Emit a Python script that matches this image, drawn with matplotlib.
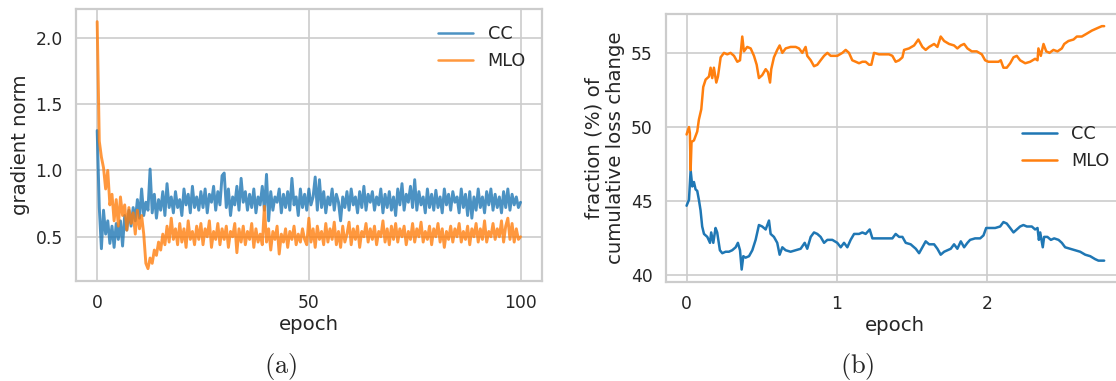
import numpy as np
import matplotlib
matplotlib.use('Agg')
import matplotlib.pyplot as plt
import seaborn as sns

# (a) gradient norm, one value every half epoch
grad_cc = [
    1.30, 0.72, 0.41, 0.70, 0.52, 0.62, 0.45, 0.58, 0.42, 0.60,
    0.48, 0.62, 0.43, 0.66, 0.55, 0.70, 0.58, 0.72, 0.62, 0.78,
    0.64, 0.86, 0.66, 0.76, 0.70, 1.01, 0.68, 0.82, 0.64, 0.78,
    0.70, 0.84, 0.66, 0.90, 0.72, 0.80, 0.68, 0.84, 0.72, 0.78,
    0.66, 0.86, 0.74, 0.82, 0.68, 0.88, 0.72, 0.80, 0.70, 0.84,
    0.72, 0.86, 0.68, 0.82, 0.76, 0.88, 0.70, 0.84, 0.74, 0.96,
    0.98, 0.72, 0.86, 0.66, 0.80, 0.74, 0.88, 0.70, 0.94, 0.76,
    0.84, 0.70, 0.82, 0.72, 0.86, 0.68, 0.80, 0.74, 0.88, 0.70,
    0.97, 0.62, 0.84, 0.70, 0.80, 0.76, 0.86, 0.68, 0.82, 0.72,
    0.84, 0.70, 0.94, 0.74, 0.80, 0.66, 0.86, 0.72, 0.82, 0.70,
    0.86, 0.74, 0.80, 0.95, 0.70, 0.93, 0.72, 0.84, 0.68, 0.80,
    0.74, 0.86, 0.70, 0.82, 0.76, 0.62, 0.80, 0.72, 0.84, 0.70,
    0.86, 0.74, 0.80, 0.68, 0.84, 0.72, 0.88, 0.70, 0.82, 0.76,
    0.84, 0.70, 0.80, 0.74, 0.86, 0.68, 0.82, 0.72, 0.84, 0.70,
    0.80, 0.66, 0.86, 0.74, 0.90, 0.70, 0.82, 0.76, 0.88, 0.72,
    0.93, 0.70, 0.84, 0.74, 0.80, 0.68, 0.86, 0.72, 0.82, 0.70,
    0.85, 0.72, 0.80, 0.68, 0.86, 0.74, 0.82, 0.70, 0.84, 0.76,
    0.80, 0.68, 0.86, 0.72, 0.82, 0.66, 0.84, 0.64, 0.80, 0.70,
    0.86, 0.72, 0.80, 0.68, 0.84, 0.74, 0.86, 0.70, 0.82, 0.72,
    0.80, 0.68, 0.84, 0.72, 0.86, 0.70, 0.82, 0.74, 0.80, 0.72,
    0.76]
grad_mlo = [
    2.12, 1.22, 1.10, 1.02, 0.86, 1.00, 0.74, 0.82, 0.62, 0.78,
    0.58, 0.80, 0.66, 0.74, 0.55, 0.72, 0.60, 0.68, 0.52, 0.70,
    0.56, 0.66, 0.52, 0.30, 0.26, 0.34, 0.30, 0.40, 0.36, 0.46,
    0.40, 0.52, 0.44, 0.58, 0.46, 0.64, 0.48, 0.56, 0.44, 0.60,
    0.46, 0.56, 0.42, 0.62, 0.48, 0.54, 0.44, 0.58, 0.48, 0.60,
    0.44, 0.56, 0.50, 0.62, 0.42, 0.54, 0.48, 0.60, 0.44, 0.56,
    0.48, 0.58, 0.42, 0.54, 0.50, 0.60, 0.38, 0.56, 0.46, 0.58,
    0.44, 0.54, 0.48, 0.60, 0.42, 0.56, 0.46, 0.52, 0.44, 0.73,
    0.46, 0.56, 0.40, 0.54, 0.48, 0.58, 0.37, 0.52, 0.46, 0.56,
    0.42, 0.54, 0.48, 0.58, 0.44, 0.52, 0.46, 0.56, 0.48, 0.44,
    0.64, 0.46, 0.56, 0.42, 0.58, 0.48, 0.54, 0.44, 0.60, 0.46,
    0.56, 0.48, 0.61, 0.44, 0.54, 0.42, 0.58, 0.46, 0.52, 0.61,
    0.44, 0.56, 0.48, 0.58, 0.42, 0.54, 0.50, 0.60, 0.46, 0.56,
    0.48, 0.58, 0.44, 0.54, 0.50, 0.62, 0.46, 0.56, 0.44, 0.58,
    0.48, 0.60, 0.46, 0.56, 0.50, 0.58, 0.44, 0.54, 0.48, 0.60,
    0.46, 0.56, 0.50, 0.61, 0.46, 0.54, 0.48, 0.58, 0.44, 0.56,
    0.50, 0.60, 0.46, 0.56, 0.42, 0.54, 0.48, 0.58, 0.46, 0.56,
    0.50, 0.60, 0.46, 0.54, 0.48, 0.58, 0.44, 0.56, 0.50, 0.60,
    0.46, 0.56, 0.48, 0.62, 0.46, 0.54, 0.50, 0.60, 0.48, 0.56,
    0.50, 0.62, 0.46, 0.58, 0.64, 0.48, 0.60, 0.46, 0.56, 0.48,
    0.50]

# (b) fraction (%) of cumulative loss change
frac_cc_epoch = [
    0.000, 0.016, 0.027, 0.038, 0.049, 0.060, 0.071, 0.082, 0.093, 0.104,
    0.116, 0.138, 0.156, 0.164, 0.178, 0.193, 0.204, 0.222, 0.238, 0.260,
    0.282, 0.304, 0.327, 0.342, 0.356, 0.367, 0.378, 0.393, 0.416, 0.438,
    0.460, 0.482, 0.504, 0.527, 0.549, 0.560, 0.582, 0.604, 0.620, 0.638,
    0.660, 0.693, 0.727, 0.760, 0.787, 0.804, 0.827, 0.849, 0.871, 0.893,
    0.916, 0.938, 0.960, 0.971, 1.004, 1.027, 1.049, 1.071, 1.093, 1.116,
    1.149, 1.171, 1.193, 1.220, 1.238, 1.271, 1.304, 1.338, 1.371, 1.393,
    1.416, 1.438, 1.460, 1.493, 1.527, 1.549, 1.571, 1.593, 1.616, 1.649,
    1.671, 1.693, 1.716, 1.738, 1.760, 1.782, 1.804, 1.827, 1.849, 1.871,
    1.889, 1.922, 1.956, 1.978, 1.996, 2.022, 2.056, 2.089, 2.111, 2.133,
    2.156, 2.178, 2.200, 2.222, 2.244, 2.267, 2.300, 2.322, 2.338, 2.347,
    2.356, 2.373, 2.382, 2.404, 2.427, 2.449, 2.478, 2.500, 2.522, 2.556,
    2.589, 2.622, 2.656, 2.689, 2.722, 2.744, 2.767, 2.782]
frac_cc = [
    44.7, 45.1, 47.1, 46.0, 46.3, 45.8, 45.7, 45.1, 44.4, 43.3,
    42.8, 42.6, 42.2, 42.9, 42.2, 43.2, 42.9, 41.7, 41.5, 41.6,
    41.6, 41.7, 41.9, 42.2, 41.7, 40.4, 41.3, 41.2, 41.3, 41.7,
    42.4, 43.4, 43.3, 43.1, 43.7, 42.8, 42.6, 42.2, 41.4, 41.9,
    41.7, 41.6, 41.7, 41.8, 42.2, 41.8, 42.6, 42.9, 42.8, 42.6,
    42.2, 42.4, 42.4, 42.4, 42.2, 41.9, 42.2, 41.9, 42.4, 42.8,
    42.8, 42.9, 42.8, 43.1, 42.5, 42.5, 42.5, 42.5, 42.5, 42.8,
    42.6, 42.6, 42.2, 42.1, 41.8, 41.5, 41.9, 42.3, 42.1, 42.1,
    41.8, 41.4, 41.6, 41.7, 41.8, 42.1, 41.8, 42.3, 41.9, 42.2,
    42.4, 42.5, 42.5, 42.7, 43.2, 43.2, 43.2, 43.3, 43.6, 43.5,
    43.2, 42.9, 43.1, 43.3, 43.4, 43.3, 43.3, 43.1, 43.2, 42.4,
    42.9, 41.9, 42.6, 42.6, 42.4, 42.5, 42.4, 42.2, 41.9, 41.8,
    41.7, 41.6, 41.4, 41.3, 41.1, 41.0, 41.0, 41.0]

frac_mlo_epoch = [
    0.000, 0.016, 0.022, 0.027, 0.033, 0.049, 0.071, 0.082, 0.098, 0.111,
    0.127, 0.149, 0.160, 0.171, 0.182, 0.198, 0.209, 0.227, 0.249, 0.271,
    0.293, 0.316, 0.338, 0.356, 0.371, 0.382, 0.404, 0.427, 0.449, 0.467,
    0.482, 0.504, 0.527, 0.542, 0.556, 0.564, 0.582, 0.604, 0.620, 0.638,
    0.660, 0.693, 0.727, 0.749, 0.771, 0.793, 0.804, 0.827, 0.849, 0.871,
    0.893, 0.916, 0.938, 0.960, 1.004, 1.038, 1.060, 1.082, 1.104, 1.127,
    1.149, 1.171, 1.193, 1.216, 1.231, 1.249, 1.282, 1.316, 1.349, 1.371,
    1.393, 1.416, 1.438, 1.449, 1.482, 1.516, 1.544, 1.571, 1.593, 1.616,
    1.649, 1.671, 1.693, 1.716, 1.749, 1.782, 1.804, 1.827, 1.849, 1.871,
    1.900, 1.933, 1.967, 1.989, 2.011, 2.044, 2.078, 2.093, 2.111, 2.133,
    2.156, 2.178, 2.200, 2.222, 2.256, 2.289, 2.322, 2.338, 2.344, 2.360,
    2.378, 2.396, 2.418, 2.444, 2.471, 2.500, 2.516, 2.544, 2.578, 2.600,
    2.633, 2.667, 2.700, 2.722, 2.744, 2.767, 2.782]
frac_mlo = [
    49.5, 50.0, 49.6, 47.1, 49.0, 49.1, 49.7, 50.5, 51.2, 52.7,
    53.2, 53.4, 54.0, 53.3, 54.0, 53.0, 53.4, 54.7, 55.0, 54.9,
    55.0, 54.8, 54.4, 54.5, 56.1, 55.1, 55.4, 55.3, 54.8, 54.2,
    53.3, 53.5, 53.9, 53.7, 53.0, 53.9, 54.7, 55.2, 55.5, 55.0,
    55.3, 55.4, 55.4, 55.3, 55.0, 55.4, 54.8, 54.5, 54.1, 54.2,
    54.5, 54.8, 55.0, 54.8, 54.8, 55.0, 55.2, 55.0, 54.5, 54.4,
    54.3, 54.4, 54.4, 54.2, 54.2, 55.0, 54.9, 54.9, 54.9, 54.8,
    54.4, 54.5, 54.7, 55.2, 55.3, 55.5, 55.9, 55.4, 55.2, 55.4,
    55.6, 55.4, 56.1, 55.8, 55.6, 55.5, 55.3, 55.5, 55.6, 55.3,
    55.1, 55.1, 54.9, 54.5, 54.4, 54.4, 54.4, 54.5, 54.0, 54.0,
    54.3, 54.7, 54.8, 54.5, 54.3, 54.4, 54.6, 54.5, 55.3, 54.8,
    55.6, 55.1, 55.0, 55.2, 55.1, 55.3, 55.6, 55.8, 55.9, 56.1,
    56.1, 56.3, 56.5, 56.6, 56.7, 56.8, 56.8]

# Style: seaborn whitegrid look, DejaVu text, CM captions
sns.set_style('whitegrid')
plt.rcParams['font.family'] = 'DejaVu Sans'
plt.rcParams['mathtext.fontset'] = 'cm'
plt.rcParams['axes.linewidth'] = 1.6
plt.rcParams['grid.linewidth'] = 1.2
plt.rcParams['xtick.major.size'] = 6
plt.rcParams['ytick.major.size'] = 6
plt.rcParams['xtick.labelsize'] = 12.3
plt.rcParams['ytick.labelsize'] = 12.3
plt.rcParams['axes.labelsize'] = 14.2
plt.rcParams['legend.fontsize'] = 12.7

fig = plt.figure(figsize=(11.16, 3.81), dpi=100)
ax1 = fig.add_axes([0.0681, 0.2625, 0.4173, 0.7131])
ax2 = fig.add_axes([0.5965, 0.2606, 0.4116, 0.7027])

# (a) gradient norm
epoch = np.linspace(0, 100, len(grad_cc))
ax1.plot(epoch, grad_cc, color='tab:blue', alpha=0.8, lw=2.1, label='CC')
ax1.plot(epoch, grad_mlo, color='tab:orange', alpha=0.8, lw=2.1, label='MLO')
ax1.set_xticks([0, 50, 100])
ax1.set_yticks([0.5, 1.0, 1.5, 2.0])
ax1.set_xlabel('epoch', labelpad=2)
ax1.set_ylabel('gradient norm')
leg1 = ax1.legend(loc='upper right', frameon=False)
for line in leg1.get_lines():
    line.set_linewidth(1.8)

# (b) fraction of cumulative loss change
ax2.plot(frac_cc_epoch, frac_cc, color='tab:blue', lw=1.8, label='CC')
ax2.plot(frac_mlo_epoch, frac_mlo, color='tab:orange', lw=1.8, label='MLO')
ax2.set_xticks([0, 1, 2])
ax2.set_yticks([40, 45, 50, 55])
ax2.set_xlabel('epoch', labelpad=2)
ax2.set_ylabel('fraction (%) of\ncumulative loss change')
ax2.legend(loc='center right', frameon=False)

# Subfigure captions
fig.text(281 / 1116, 1 - 366 / 381, r'$\mathrm{(a)}$', ha='center', va='center', fontsize=19)
fig.text(857 / 1116, 1 - 366 / 381, r'$\mathrm{(b)}$', ha='center', va='center', fontsize=19)

fig.savefig('out.png', dpi=100)
